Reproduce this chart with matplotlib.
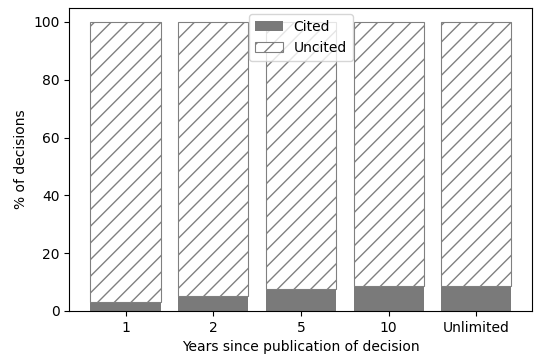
import matplotlib
matplotlib.use('Agg')
import matplotlib.pyplot as plt
import numpy as np

# Share of decisions cited within N years of publication
windows = ['1', '2', '5', '10', 'Unlimited']
cited = [3.1, 5.1, 7.5, 8.5, 8.5]
uncited = [100 - c for c in cited]

fig = plt.figure(figsize=(5.34, 3.59), dpi=100)
ax = fig.add_axes([0.130, 0.134, 0.867, 0.845])

plt.rcParams['hatch.color'] = '#808080'
x = np.arange(len(windows))
ax.bar(x, cited, width=0.8, color='#7a7a7a', label='Cited')
ax.bar(x, uncited, width=0.8, bottom=cited, color='white', edgecolor='#808080',
       hatch='//', linewidth=0.8, label='Uncited')

ax.set_xticks(x)
ax.set_xticklabels(windows)
ax.set_xlabel('Years since publication of decision')
ax.set_ylabel('% of decisions')
ax.legend(loc='upper center')

fig.savefig('out.png', dpi=100, facecolor='white')
